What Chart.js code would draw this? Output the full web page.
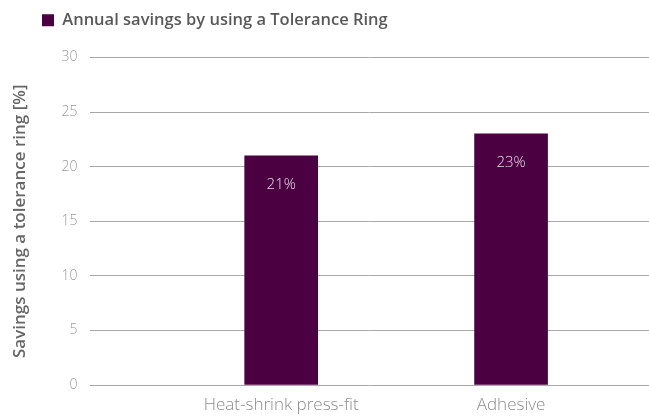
<!DOCTYPE html>
<html lang="en">
  <head>
    <meta charset="UTF-8" />
    <title>Annual savings by using a Tolerance Ring</title>
    <script src="https://cdn.jsdelivr.net/npm/chart.js"></script>
    <style>
      html, body {
        margin: 0;
        padding: 0;
        background: #ffffff;
      }
      #wrap {
        width: 649px;
        height: 418px;
      }
    </style>
  </head>
  <body>
    <div id="wrap"><canvas id="savingsChart"></canvas></div>

    <script>
      // data
      const categories = ["Heat-shrink press-fit", "Adhesive"];
      const savings = [21, 23];
      const yTicks = [0, 5, 10, 15, 20, 25, 30];
      const seriesLabel = "Annual savings by using a Tolerance Ring";
      const yTitle = "Savings using a tolerance ring [%]";

      const barColor = "#4b0042";
      const fontFamily = "'Open Sans', Lato, sans-serif";

      // value labels inside the top of each bar
      const barLabels = {
        id: "barLabels",
        afterDatasetsDraw(chart) {
          const ctx = chart.ctx;
          const meta = chart.getDatasetMeta(0);
          ctx.save();
          ctx.font = "300 15px " + fontFamily;
          ctx.fillStyle = "#e6d6e4";
          ctx.textAlign = "center";
          ctx.textBaseline = "middle";
          meta.data.forEach((bar, i) => {
            ctx.fillText(savings[i] + "%", bar.x, bar.y + 29);
          });
          ctx.restore();
        },
      };

      // move the legend up and right, clear of the axis title
      const legendShift = {
        id: "legendShift",
        afterLayout(chart) {
          chart.legend.left += 22;
          chart.legend.top -= 19;
        },
      };

      new Chart(document.getElementById("savingsChart"), {
        type: "bar",
        data: {
          datasets: [
            {
              label: seriesLabel,
              data: savings.map((v, i) => ({ x: i + 1, y: v })),
              backgroundColor: barColor,
              borderWidth: 0,
              barThickness: 73,
            },
          ],
        },
        options: {
          responsive: true,
          maintainAspectRatio: false,
          animation: false,
          layout: {
            padding: { left: 10, right: 0, top: 21, bottom: 0 },
          },
          plugins: {
            tooltip: { enabled: false },
            legend: {
              position: "top",
              align: "start",
              labels: {
                boxWidth: 12,
                boxHeight: 12,
                padding: 10,
                color: "#595959",
                font: { family: fontFamily, size: 16.5, weight: "600" },
              },
            },
          },
          scales: {
            x: {
              type: "linear",
              offset: false,
              min: 0.17,
              max: 2.6,
              afterBuildTicks: (axis) => {
                axis.ticks = categories.map((_, i) => ({ value: i + 1 }));
              },
              afterFit: (axis) => {
                axis.height = 33;
              },
              grid: { display: false, drawTicks: false },
              border: { display: false },
              ticks: {
                padding: 12,
                maxRotation: 0,
                color: "#8c8c8c",
                font: { family: fontFamily, size: 17, weight: "300", lineHeight: 1 },
                callback: (value) => categories[value - 1] ?? "",
              },
            },
            y: {
              min: 0,
              max: 30,
              afterBuildTicks: (axis) => {
                axis.ticks = yTicks.map((v) => ({ value: v }));
              },
              grid: {
                color: "#a8a8a8",
                lineWidth: 1,
                drawTicks: false,
              },
              border: { display: false },
              ticks: {
                padding: 13,
                color: "#9a9a9a",
                font: { family: fontFamily, size: 14, weight: "300" },
              },
              title: {
                display: true,
                text: yTitle,
                color: "#666666",
                padding: { top: 0, bottom: 18 },
                font: { family: fontFamily, size: 17, weight: "600" },
              },
            },
          },
        },
        plugins: [barLabels, legendShift],
      });
    </script>
  </body>
</html>
